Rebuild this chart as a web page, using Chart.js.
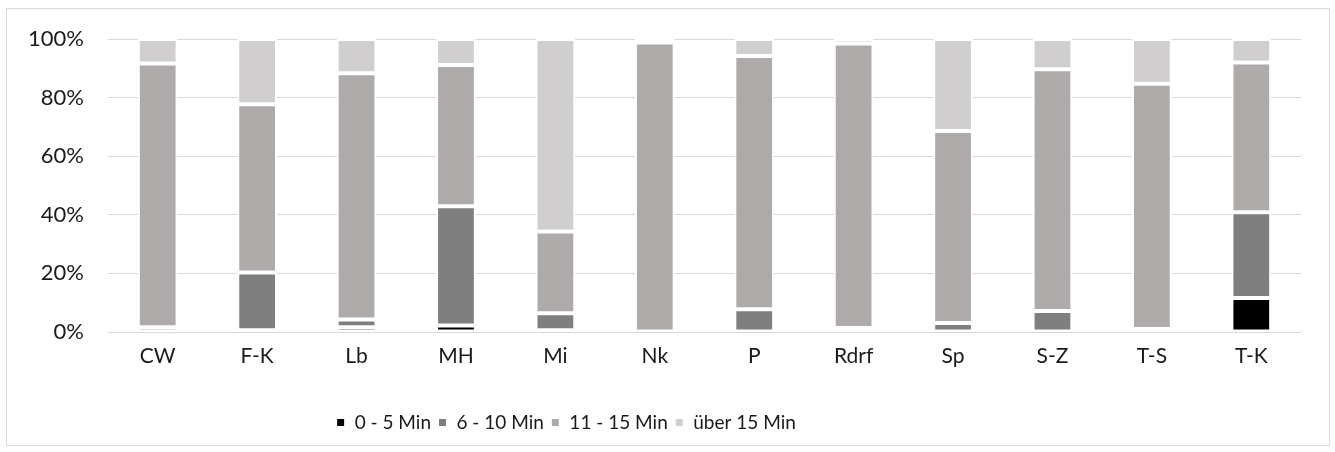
<!DOCTYPE html>
<html>
<head>
<meta charset="utf-8">
<script src="https://cdn.jsdelivr.net/npm/chart.js@4/dist/chart.umd.min.js"></script>
<style>
  html, body { margin: 0; padding: 0; background: #ffffff; }
  #frame {
    position: absolute; left: 6px; top: 8px;
    width: 1324px; height: 438px;
    box-sizing: border-box; border: 1px solid #d9d9d9;
    background: #ffffff;
  }
  #chart { display: block; }
</style>
</head>
<body>
<div id="frame"><canvas id="chart" width="1322" height="436"></canvas></div>
<script>
// Anteil je Fahrzeitklasse (in %), pro Ort
const categories = ['CW', 'F-K', 'Lb', 'MH', 'Mi', 'Nk', 'P', 'Rdrf', 'Sp', 'S-Z', 'T-S', 'T-K'];
const seriesNames = ['0 - 5 Min', '6 - 10 Min', '11 - 15 Min', 'über 15 Min'];
const min0to5   = [0,    0.6, 1.6, 2.2,  0.6,  0,    0,    0.7,  0,    0,    0,    11.6];
const min6to10  = [1.6, 19.7, 2.7, 40.7, 5.8,  0,    7.8,  0.7,  3.1,  7.2,  1.0,  29.3];
const min11to15 = [90.0, 57.4, 84.0, 48.2, 27.9, 98.8, 86.4, 97.1, 65.5, 82.5, 83.7, 51.1];
const over15    = [8.4, 22.3, 11.7, 8.9,  65.7, 1.2,  5.8,  1.5,  31.4, 10.3, 15.3, 8.0];
const yTicks = [0, 20, 40, 60, 80, 100];

const colors = ['#000000', '#7f7f7f', '#aeaaaa', '#d0cece'];
const values = [min0to5, min6to10, min11to15, over15];

const FONT = 'Lato, "Open Sans", sans-serif';

// shifts the legend row to the left of the frame centre
const legendOffset = {
  id: 'legendOffset',
  afterLayout(chart) {
    const lg = chart.legend;
    if (lg) { lg.left -= 88; lg.right -= 88; }
  }
};

new Chart(document.getElementById('chart'), {
  type: 'bar',
  data: {
    labels: categories,
    datasets: seriesNames.map((name, i) => ({
      label: name,
      data: values[i],
      backgroundColor: colors[i],
      borderColor: '#ffffff',
      borderWidth: 2,
      borderSkipped: false,
      barPercentage: 0.4,
      categoryPercentage: 1.0
    }))
  },
  options: {
    responsive: false,
    animation: false,
    layout: { padding: { top: 30, right: 28, left: 0, bottom: 3 } },
    scales: {
      x: {
        stacked: true,
        grid: { display: false, drawTicks: false },
        border: { display: false },
        ticks: { color: '#1a1a1a', font: { family: FONT, size: 21 }, padding: 12 },
        afterFit(s) { s.height = 74; }
      },
      y: {
        stacked: true,
        min: 0, max: 100,
        afterBuildTicks(s) { s.ticks = yTicks.map(v => ({ value: v })); },
        grid: { color: '#d9d9d9', lineWidth: 1, drawTicks: false },
        border: { display: false },
        ticks: {
          color: '#1a1a1a', font: { family: FONT, size: 22 }, padding: 24,
          callback: v => v + '%'
        },
        afterFit(s) { s.width = 101; s.paddingTop = 0; s.paddingBottom = 0; }
      }
    },
    plugins: {
      legend: {
        position: 'bottom',
        labels: {
          color: '#1a1a1a', font: { family: FONT, size: 19 },
          boxWidth: 9, boxHeight: 9, padding: 7
        }
      },
      tooltip: { enabled: false }
    }
  },
  plugins: [legendOffset]
});
</script>
</body>
</html>
